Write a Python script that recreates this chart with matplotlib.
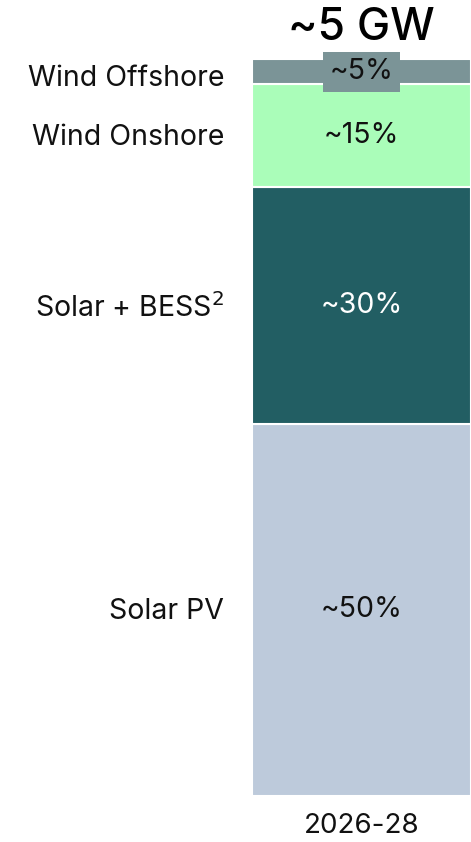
import matplotlib
matplotlib.use("Agg")
import matplotlib.pyplot as plt
from matplotlib.transforms import blended_transform_factory, offset_copy

plt.rcParams['font.family'] = ['Inter', 'DejaVu Sans']

categories = ["Solar PV", "Solar + BESS$^2$", "Wind Onshore", "Wind Offshore"]
values = [50.5, 32.1, 14.0, 3.4]
pct_labels = ["~50%", "~30%", "~15%", "~5%"]
colors = ["#BDCADB", "#225E63", "#AAFDB9", "#7B9497"]
text_colors = ["#111111", "#FFFFFF", "#111111", "#111111"]
period = "2026-28"
total_label = "~5 GW"

W, H = 471, 842
fig = plt.figure(figsize=(W/100, H/100), dpi=100)
ax = fig.add_axes([252/W, (H-796)/H, (W-252)/W, (796-59.3)/H])
total = sum(values)
ax.set_xlim(-0.5, 0.5)
ax.set_ylim(0, total)
ax.axis('off')

FS = 20.5
bottom = 0
trans = blended_transform_factory(ax.transAxes, ax.transData)
for cat, v, lab, c, tc in zip(categories, values, pct_labels, colors, text_colors):
    ax.bar(0, v, width=1.0, bottom=bottom, color=c, edgecolor='white', linewidth=1.5, zorder=1)
    mid = bottom + v / 2
    dy = -7 if cat == "Wind Offshore" else -2
    ax.text(-28/219, mid, cat, transform=offset_copy(trans, fig=fig, y=dy, units='dots'),
            ha='right', va='center', fontsize=FS, color='#111111', clip_on=False)
    if lab == "~5%":
        ax.text(0.5, mid, lab, transform=trans, ha='center', va='center', fontsize=FS,
                color=tc, zorder=5, clip_on=False,
                bbox=dict(boxstyle='square,pad=0.22', facecolor=c, edgecolor='none'))
    else:
        ax.text(0.5, mid, lab, transform=trans, ha='center', va='center', fontsize=FS,
                color=tc, zorder=5)
    bottom += v

fig.text(361.5/W, 1 - 28/H, total_label, ha='center', va='center', fontsize=32,
         fontweight='medium', color='#000000')
fig.text(361.5/W, 1 - 826/H, period, ha='center', va='center', fontsize=20, color='#111111')

fig.savefig("out.png", dpi=100)
